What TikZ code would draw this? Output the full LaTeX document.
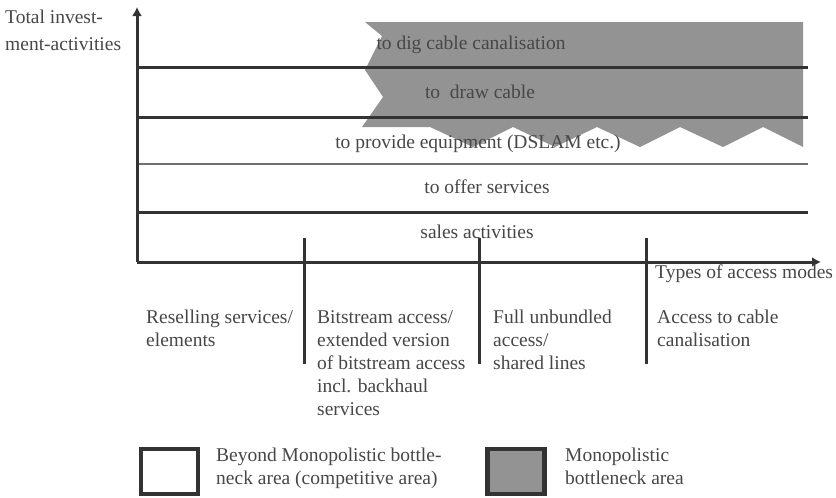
\documentclass[tikz,border=0pt]{standalone}
\usepackage{fontspec}
\setmainfont{Liberation Serif}
\usetikzlibrary{arrows.meta}
\definecolor{bneck}{HTML}{939393}
\definecolor{ink}{HTML}{333333}
\definecolor{mut}{HTML}{707070}

\begin{document}
\begin{tikzpicture}[x=1pt,y=-1pt,font=\fontsize{19.5}{23}\selectfont,
    layer/.style={anchor=base,inner sep=0pt,color=ink!90},
    mode/.style={anchor=base west,align=left,inner sep=0pt,color=ink!90},
    keybox/.style={draw=ink,line width=4.5pt,minimum width=57pt,minimum height=45pt,inner sep=0pt}]
    \useasboundingbox (0,0) rectangle (836,498);
    % monopolistic bottleneck area, jagged on the left and below
    \fill[bneck] (365,22) -- (803,22) -- (803,147) -- (763,127) -- (723,147)
      -- (680,127) -- (640,147) -- (597,127) -- (555,147) -- (513,127)
      -- (473,147) -- (430,127) -- (362,127) -- (383,97) -- (365,70)
      -- (382,36) -- cycle;
    % layer borders
    \foreach \i/\y/\w in {1/67/3pt,2/117/3pt,3/164/1.6pt,4/212/3pt}{
      \coordinate (l\i) at (137,\y);
      \coordinate (r\i) at (808,\y);
      \draw[line width=\w,color=ink] (l\i) -- (r\i);}
    \draw[line width=1.6pt,color=mut] (l3) -- (r3);
    % axes
    \coordinate (o) at (137,262);
    \coordinate (ytop) at (137,7);
    \coordinate (xend) at (821,262);
    \draw[-{Latex[length=9pt,width=10pt]},line width=3pt,ink] (o) -- (ytop);
    \draw[-{Latex[length=9pt,width=10pt]},line width=3pt,ink] (o) -- (xend);
    % borders between access modes
    \foreach \j/\x in {1/304,2/479,3/646}{
      \coordinate (t\j) at (\x,238);
      \coordinate (b\j) at (\x,364);
      \draw[line width=3pt,ink] (t\j) -- (b\j);}
    % layer names
    \node[layer] (dig) at (471,49) {to dig cable canalisation};
    \node[layer] (cab) at (480,98) {to\ \ draw cable};
    \node[layer] (equ) at (478,148) {to provide equipment (DSLAM etc.)};
    \node[layer] (srv) at (487,193) {to offer services};
    \node[layer] (sal) at (477,238) {sales activities};
    % axis names (base = last line)
    \node[mode,font=\fontsize{19.5}{27}\selectfont] (ylab) at (5,50) {Total invest-\\ment-activities};
    \node[mode] (xlab) at (655,278) {Types of access modes};
    % access modes
    \node[mode] (resell) at (146,346) {Reselling services/\\elements};
    \node[mode] (bits) at (317,415) {Bitstream access/\\extended version\\of bitstream access\\incl. backhaul\\services};
    \node[mode] (full) at (493,369) {Full unbundled\\access/\\shared lines};
    \node[mode] (duct) at (657,346) {Access to cable\\canalisation};
    % legend
    \node[keybox,fill=white] (kfree) at (169.5,471.5) {};
    \node[mode] (tfree) at (216,484) {Beyond Monopolistic bottle-\\neck area (competitive area)};
    \node[keybox,fill=bneck] (kmono) at (516,471.5) {};
    \node[mode] (tmono) at (565,484) {Monopolistic\\bottleneck area};
  \end{tikzpicture}
\end{document}
